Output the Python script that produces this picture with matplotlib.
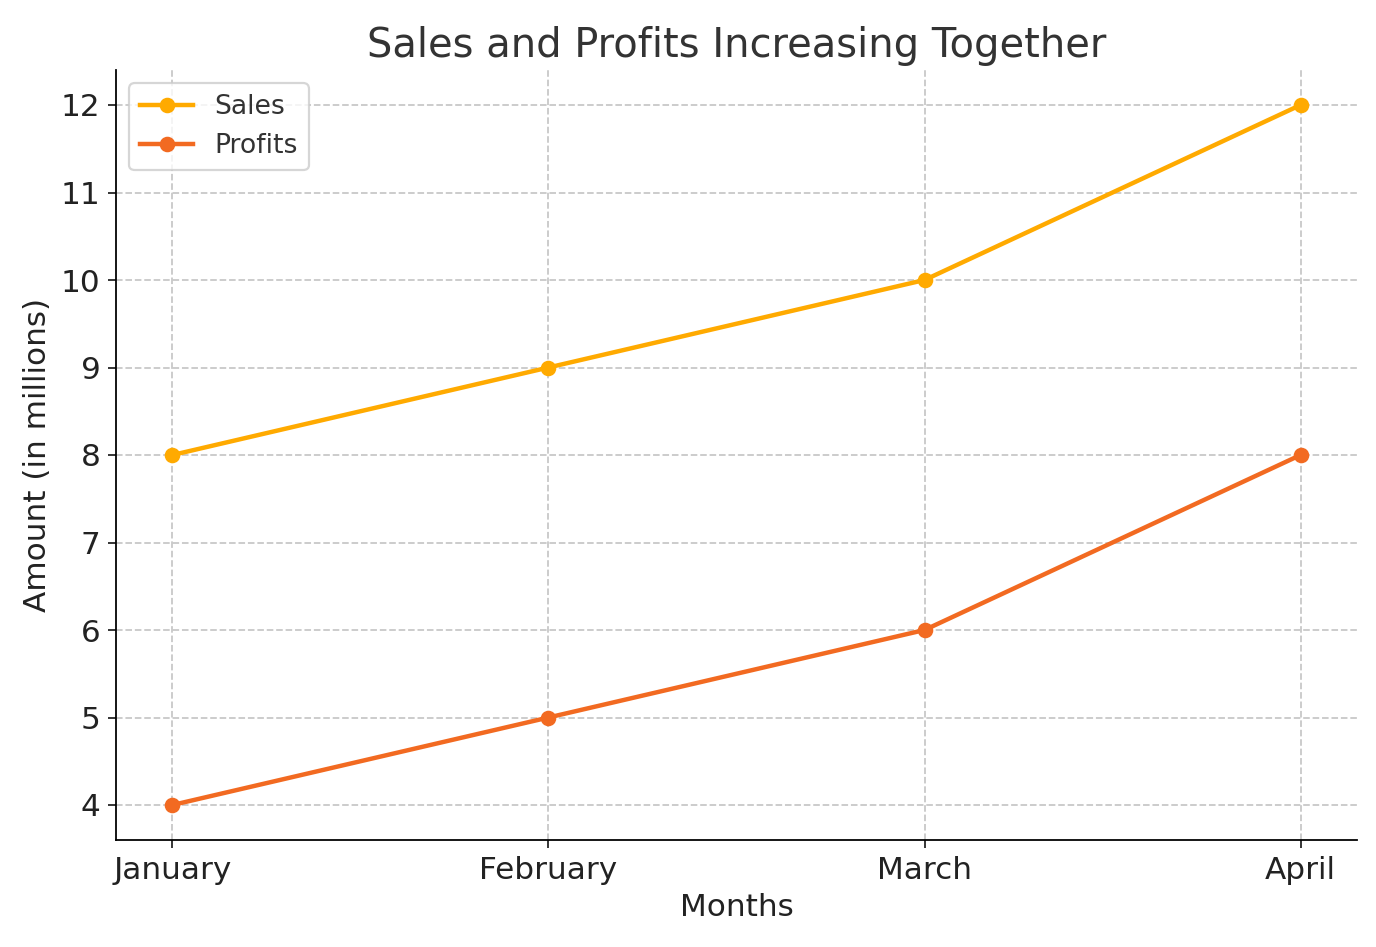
import matplotlib.pyplot as plt

months = ['January', 'February', 'March', 'April']
sales = [8, 9, 10, 12]
profits = [4, 5, 6, 8]

W, H, DPI = 1376, 947, 160
fig = plt.figure(figsize=(W / DPI, H / DPI), dpi=DPI)
ax = fig.add_axes([116 / W, 1 - 840 / H, (1357 - 116) / W, (840 - 70) / H])

ax.plot(months, sales, marker='o', color='#FFAA00', linewidth=2, markersize=6, label='Sales')
ax.plot(months, profits, marker='o', color='#F26A21', linewidth=2, markersize=6, label='Profits')

ax.set_title('Sales and Profits Increasing Together', fontsize=18, color='#333333')
ax.set_xlabel('Months', fontsize=14, color='#222222')
ax.set_ylabel('Amount (in millions)', fontsize=14, color='#222222')
ax.tick_params(labelsize=14, colors='#222222')
ax.set_ylim(3.6, 12.4)
ax.set_xlim(-0.15, 3.15)
ax.grid(True, linestyle='--', color='#c8c8c8', linewidth=0.8)
ax.spines['top'].set_visible(False)
ax.spines['right'].set_visible(False)
ax.legend(loc='upper left', fontsize=12, labelcolor='#333333')

fig.savefig('out.png', dpi=DPI)
